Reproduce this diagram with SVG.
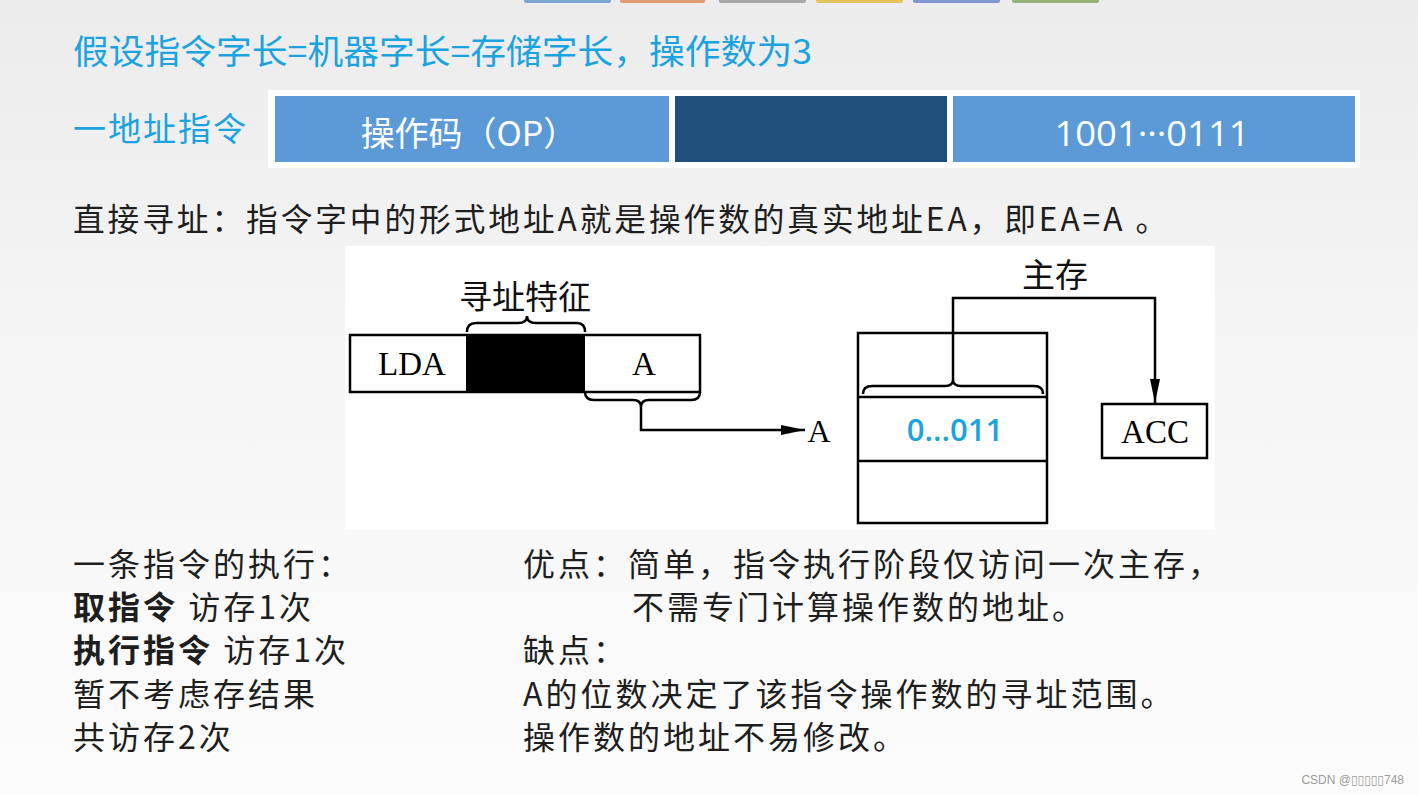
<svg xmlns="http://www.w3.org/2000/svg" width="1418" height="795" viewBox="0 0 1418 795">
<defs>
<linearGradient id="bg" x1="0" y1="0" x2="0" y2="1">
<stop offset="0" stop-color="#ececec"/>
<stop offset="0.5" stop-color="#f6f6f6"/>
<stop offset="1" stop-color="#fcfcfc"/>
</linearGradient>
<marker id="arr" markerUnits="userSpaceOnUse" markerWidth="26" markerHeight="12" refX="24" refY="6" orient="auto">
<path d="M0,1 L24,6 L0,11 Z" fill="#000"/>
</marker>
<style>
.cn{font-family:"Noto Sans CJK SC","Noto Sans",sans-serif;}
.blue{fill:#1ba3e0;}
.body{fill:#1e1e1e;font-size:32px;letter-spacing:3px;}
.ser{font-family:"Liberation Serif","DejaVu Serif",serif;fill:#000;}
.box{fill:#fff;stroke:#000;stroke-width:2.5;}
.ln{fill:none;stroke:#000;stroke-width:2.5;}
.wt{fill:#fff;}
</style>
</defs>
<rect x="0" y="0" width="1418" height="795" fill="url(#bg)"/>
<g id="tabs">
<rect x="524" y="-3" width="87" height="6" rx="2" fill="#7fa6d3"/>
<rect x="620" y="-3" width="85" height="6" rx="2" fill="#e49a72"/>
<rect x="719" y="-3" width="87" height="6" rx="2" fill="#a8a8a8"/>
<rect x="816" y="-3" width="87" height="6" rx="2" fill="#e5c35c"/>
<rect x="913" y="-3" width="87" height="6" rx="2" fill="#8197d0"/>
<rect x="1012" y="-3" width="87" height="6" rx="2" fill="#94b47c"/>
</g>
<text class="cn blue" x="73" y="64" font-size="34" textLength="739" lengthAdjust="spacingAndGlyphs">假设指令字长=机器字长=存储字长，操作数为3</text>
<text class="cn blue" x="73" y="141" font-size="33" letter-spacing="2">一地址指令</text>
<g id="format">
<rect x="268" y="90" width="1092" height="78" fill="#fff"/>
<rect x="275" y="96" width="394" height="66" fill="#5b9ad6"/>
<rect x="675" y="96" width="272" height="66" fill="#1f4e7b"/>
<rect x="953" y="96" width="402" height="66" fill="#5b9ad6"/>
<text class="cn wt" x="469" y="146" font-size="34" text-anchor="middle">操作码（OP）</text>
<text class="wt" x="1152" y="146" font-size="35" text-anchor="middle" textLength="195" lengthAdjust="spacingAndGlyphs" font-family="'Open Sans','Noto Sans',sans-serif">1001···0111</text>
</g>
<text class="cn body" x="73" y="231" font-size="33" textLength="1097" lengthAdjust="spacingAndGlyphs">直接寻址：指令字中的形式地址A就是操作数的真实地址EA，即EA=A 。</text>
<rect x="345" y="246" width="870" height="284" fill="#fff"/>
<g id="instruction">
<text class="cn" x="525" y="309" font-size="33" text-anchor="middle" fill="#111">寻址特征</text>
<path class="ln" d="M467,332 Q467,323 476,323 L518,323 Q527,323 527,316 Q527,323 536,323 L577,323 Q585,323 585,332"/>
<rect class="box" x="350" y="335" width="350" height="57"/>
<rect x="466" y="335" width="119" height="57" fill="#000"/>
<text class="ser" x="412" y="375" font-size="33" text-anchor="middle">LDA</text>
<text class="ser" x="644" y="375" font-size="33" text-anchor="middle">A</text>
<path class="ln" d="M585,392 Q585,400 594,400 L633,400 Q641,400 641,407 Q641,400 649,400 L691,400 Q700,400 700,392"/>
</g>
<g id="addrA">
<text class="ser" x="819" y="442" font-size="32" text-anchor="middle">A</text>
</g>
<g id="memory">
<text class="cn" x="1055" y="287" font-size="33" text-anchor="middle" fill="#111">主存</text>
<rect class="box" x="858" y="333" width="189" height="190"/>
<line class="ln" x1="858" y1="397" x2="1047" y2="397"/>
<line class="ln" x1="858" y1="461" x2="1047" y2="461"/>
<path class="ln" d="M863,394 Q863,386 872,386 L945,386 Q953,386 953,380 Q953,386 961,386 L1034,386 Q1043,386 1043,394"/>
<text class="blue" x="955" y="441" font-size="31" font-weight="600" text-anchor="middle" font-family="'Open Sans','Noto Sans',sans-serif">0...011</text>
</g>
<g id="acc">
<rect class="box" x="1102" y="404" width="105" height="54"/>
<text class="ser" x="1155" y="443" font-size="33" text-anchor="middle">ACC</text>
</g>
<g id="connectors">
<path class="ln" d="M641,407 L641,430 L805,430" marker-end="url(#arr)"/>
<path class="ln" d="M953,380 L953,298 L1155,298 L1155,403" marker-end="url(#arr)"/>
</g>
<g id="notes-left" class="cn body">
<text x="73" y="576">一条指令的执行：</text>
<text x="73" y="619"><tspan font-weight="bold">取指令</tspan> 访存1次</text>
<text x="73" y="662"><tspan font-weight="bold">执行指令</tspan> 访存1次</text>
<text x="73" y="706">暂不考虑存结果</text>
<text x="73" y="749">共访存2次</text>
</g>
<g id="notes-right" class="cn body">
<text x="523" y="576">优点：简单，指令执行阶段仅访问一次主存，</text>
<text x="632" y="619">不需专门计算操作数的地址。</text>
<text x="523" y="662">缺点：</text>
<text x="523" y="706">A的位数决定了该指令操作数的寻址范围。</text>
<text x="523" y="749">操作数的地址不易修改。</text>
</g>
<text x="1404" y="784" font-size="12" fill="#9a9a9a" text-anchor="end" font-family="'Liberation Sans','DejaVu Sans',sans-serif">CSDN @▯▯▯▯▯748</text>
</svg>
